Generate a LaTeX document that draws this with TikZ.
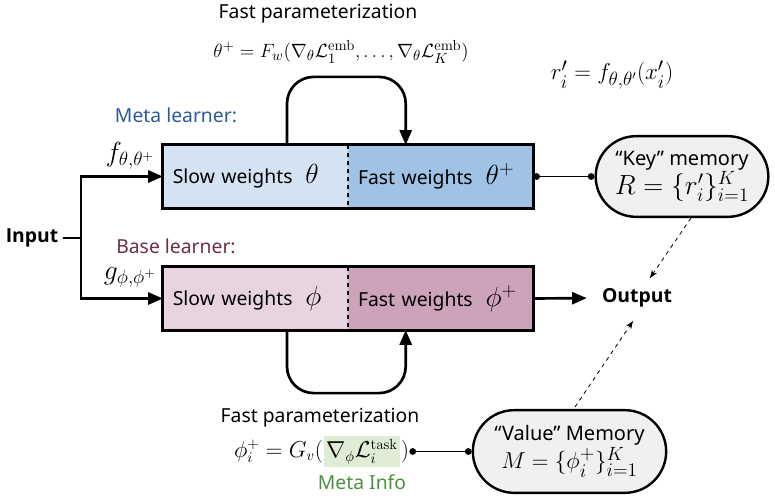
\documentclass[tikz,border=0pt]{standalone}
\usepackage{amsmath,amssymb}
\usepackage[no-math]{fontspec}
\setmainfont{Noto Sans}
\newfontfamily\strongfont{Open Sans}
\usetikzlibrary{arrows.meta, positioning, calc, shapes.misc}
\definecolor{cMetaSlow}{RGB}{212,227,242}
\definecolor{cMetaFast}{RGB}{160,194,228}
\definecolor{cBaseSlow}{RGB}{232,212,224}
\definecolor{cBaseFast}{RGB}{205,163,188}
\definecolor{cMetaText}{RGB}{45,90,150}
\definecolor{cBaseText}{RGB}{110,45,75}
\definecolor{cInfoText}{RGB}{75,145,60}
\definecolor{cInfoFill}{RGB}{222,237,212}
\definecolor{cMemFill}{RGB}{240,240,240}
\newcommand{\bodyfont}{\fontsize{14.5}{17}\selectfont}
\newcommand{\bigmath}[1]{{\fontsize{20}{22}\selectfont$#1$}}
\tikzset{
  %% half boxes of the two learners
  halfbox/.style={rectangle, minimum width=138.5pt, minimum height=47pt,
                  inner xsep=7pt, text width=124pt, align=left, font=\bodyfont},
  slowM/.style={halfbox, fill=cMetaSlow},
  fastM/.style={halfbox, fill=cMetaFast},
  slowB/.style={halfbox, fill=cBaseSlow},
  fastB/.style={halfbox, fill=cBaseFast},
  frame/.style={line width=2.2pt},
  divider/.style={dashed, line width=1.1pt},
  %% learner titles
  lblM/.style={font=\bodyfont, text=cMetaText},
  lblB/.style={font=\bodyfont, text=cBaseText},
  plain/.style={font=\bodyfont},
  strong/.style={font=\strongfont\bodyfont\bfseries},
  %% memories
  memory/.style={rounded rectangle, draw, line width=1.8pt, fill=cMemFill,
                 align=center, font=\fontsize{15}{19}\selectfont, inner sep=2pt},
  %% connectors
  flow/.style={line width=2pt},
  flowarrow/.style={flow, -{Triangle[length=11pt,width=9pt]}},
  link/.style={line width=1pt, {Circle[length=5pt]}-{Circle[length=5pt]}},
  hint/.style={dashed, line width=0.6pt, -{Stealth[length=6pt]}},
}

\begin{document}
\begin{tikzpicture}[x=0.75pt, y=-0.75pt]
\useasboundingbox (0,0) rectangle (775,497);

%% ============================================================
%%  META LEARNER (top)
%% ============================================================
\node[lblM] (metaLabel) at (176,115) {Meta learner:};
\node[slowM] (metaSlow) at (255.5,176.5) {Slow weights~~\bigmath{\theta}};
\node[fastM, right=0pt of metaSlow] (metaFast) {Fast weights~~\bigmath{\theta^+}};
\draw[frame] (metaSlow.north west) rectangle (metaFast.south east);
\draw[divider] (metaSlow.north east) -- (metaSlow.south east);
\node[plain] (fLabel) at (130,156) {\bigmath{f_{\theta,\theta^+}}};

%% fast parameterization of theta
\node[plain] (topFastText) at (318,14) {Fast parameterization};
\node[font=\fontsize{15.5}{18}\selectfont] (thetaRule) at (341,52)
  {$\theta^+ = F_w(\nabla_\theta\mathcal{L}_1^{\mathrm{emb}},\ldots,\nabla_\theta\mathcal{L}_K^{\mathrm{emb}})$};
\draw[flowarrow, rounded corners=20pt]
  ($(metaSlow.north)+(31.5,0)$) -- ++(0,-68) -| ($(metaFast.north)+(-35,0)$);

%% ============================================================
%%  BASE LEARNER (bottom)
%% ============================================================
\node[lblB] (baseLabel) at (176,246) {Base learner:};
\node[slowB] (baseSlow) at (255.5,298.5) {Slow weights~~\bigmath{\phi}};
\node[fastB, right=0pt of baseSlow] (baseFast) {Fast weights~~\bigmath{\phi^+}};
\draw[frame] (baseSlow.north west) rectangle (baseFast.south east);
\draw[divider] (baseSlow.north east) -- (baseSlow.south east);
\node[plain] (gLabel) at (130,277) {\bigmath{g_{\phi,\phi^+}}};

%% fast parameterization of phi
\node[plain] (lowFastText) at (320,418) {Fast parameterization};
\node[font=\fontsize{16}{19}\selectfont, fill=cInfoFill, inner sep=2pt] (gradTask) at (362,451.5)
  {$\nabla_\phi\mathcal{L}_i^{\mathrm{task}}$};
\node[font=\fontsize{16}{19}\selectfont, anchor=east, inner sep=0pt] (phiLhs) at (gradTask.west)
  {$\phi_i^+ = G_v($};
\node[font=\fontsize{16}{19}\selectfont, anchor=west, inner sep=0pt] (phiRhs) at (gradTask.east) {$)$};
\node[plain, text=cInfoText] (metaInfo) at (362,482) {Meta Info};
\draw[flowarrow, rounded corners=20pt]
  ($(baseSlow.south)+(31.5,0)$) -- ++(0,63) -| ($(baseFast.south)+(-35,0)$);

%% ============================================================
%%  INPUT
%% ============================================================
\node[strong] (input) at (32,238) {Input};
\draw[flow] (input.east) -- ++(18,0) coordinate (split);
\draw[flowarrow] (split) |- (metaSlow.west);
\draw[flowarrow] (split) |- (baseSlow.west);

%% ============================================================
%%  MEMORIES AND OUTPUT
%% ============================================================
\node[font=\fontsize{19}{22}\selectfont] (rRule) at (612,75) {$r_i' = f_{\theta,\theta'}(x_i')$};
\node[memory, minimum width=133.5pt, minimum height=60.5pt] (keyMem) at (682,176.5)
  {``Key'' memory\\{\fontsize{21}{23}\selectfont$R=\{r_i'\}_{i=1}^K$}};
\node[memory, minimum width=149pt, minimum height=62pt] (valueMem) at (569.5,451.5)
  {``Value'' Memory\\{\fontsize{19}{21}\selectfont$M=\{\phi_i^+\}_{i=1}^K$}};
\node[strong] (output) at (637,298) {Output};

\draw[link] (metaFast.east) -- (keyMem.west);
\draw[link] (phiRhs.east) -- (valueMem.west);
\draw[flowarrow, shorten >=8pt] (baseFast.east) -- (output.west);

%% dotted hints towards the output
\draw[hint] ($(keyMem.south)+(9,0)$) -- ($(output.north)+(13,-6)$);
\draw[hint] ($(valueMem.north)+(5.5,-2)$) -- ($(output.south)+(-4,9)$);

\end{tikzpicture}
\end{document}
